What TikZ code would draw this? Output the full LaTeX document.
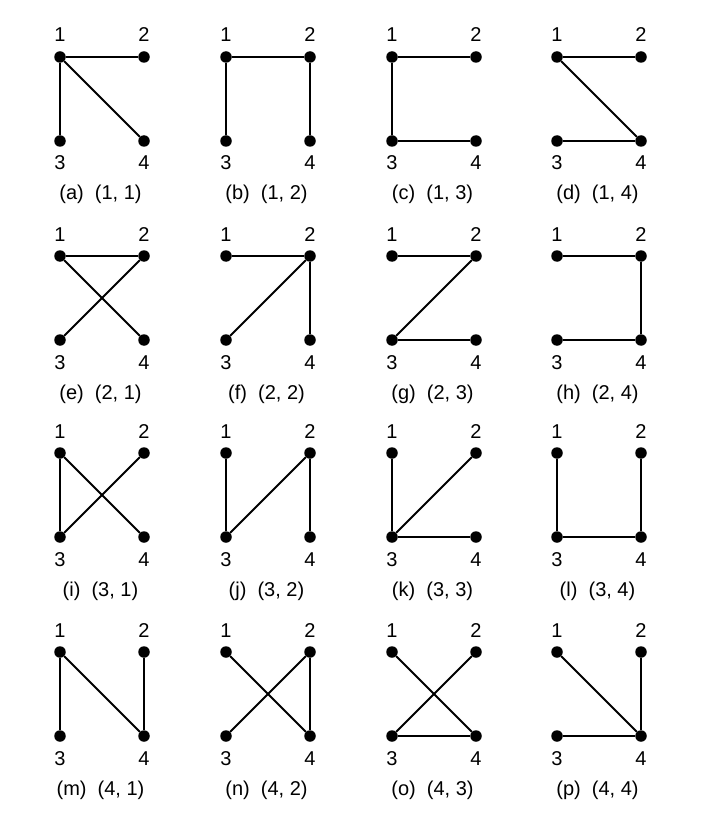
\documentclass[tikz,border=0pt]{standalone}
\usepackage{fontspec}
\setmainfont{Liberation Sans}
\begin{document}
\begin{tikzpicture}[x=1pt,y=-1pt,
 vtx/.style={circle,fill=black,inner sep=0pt,minimum size=11.5pt},
 edge/.style={line width=2pt},
 lbl/.style={anchor=base,font=\fontsize{20}{24}\selectfont,inner sep=0pt},
]
\useasboundingbox (0,0) rectangle (708,834);
\foreach \nm/\cx/\ry/\ij/\E in {
 a/0/0/{1, 1}/{1/2,1/3,1/4},
 b/1/0/{1, 2}/{1/2,1/3,2/4},
 c/2/0/{1, 3}/{1/2,1/3,3/4},
 d/3/0/{1, 4}/{1/2,1/4,3/4},
 e/0/1/{2, 1}/{1/2,1/4,2/3},
 f/1/1/{2, 2}/{1/2,2/3,2/4},
 g/2/1/{2, 3}/{1/2,2/3,3/4},
 h/3/1/{2, 4}/{1/2,2/4,3/4},
 i/0/2/{3, 1}/{1/3,2/3,1/4},
 j/1/2/{3, 2}/{1/3,2/3,2/4},
 k/2/2/{3, 3}/{1/3,2/3,3/4},
 l/3/2/{3, 4}/{1/3,3/4,2/4},
 m/0/3/{4, 1}/{1/3,1/4,2/4},
 n/1/3/{4, 2}/{1/4,2/3,2/4},
 o/2/3/{4, 3}/{1/4,2/3,3/4},
 p/3/3/{4, 4}/{1/4,2/4,3/4}}
{
 \pgfmathsetmacro\xa{{60,226,392,557}[\cx]}
 \pgfmathsetmacro\xb{\xa+84}
 \pgfmathsetmacro\ya{{57,256,453,652}[\ry]}
 \pgfmathsetmacro\yb{\ya+84}
 \node[vtx] (\nm1) at (\xa,\ya) {};
 \node[vtx] (\nm2) at (\xb,\ya) {};
 \node[vtx] (\nm3) at (\xa,\yb) {};
 \node[vtx] (\nm4) at (\xb,\yb) {};
 \node[lbl] (\nm l1) at (\xa,\ya-15) {1};
 \node[lbl] (\nm l2) at (\xb,\ya-15) {2};
 \node[lbl] (\nm l3) at (\xa,\yb+29) {3};
 \node[lbl] (\nm l4) at (\xb,\yb+29) {4};
 \node[lbl] (\nm cap) at (\xa+40.5,\yb+59) {(\nm)\ \ (\ij)};
 \foreach \u/\v in \E {\draw[edge] (\nm\u) -- (\nm\v);}
}
\end{tikzpicture}
\end{document}
